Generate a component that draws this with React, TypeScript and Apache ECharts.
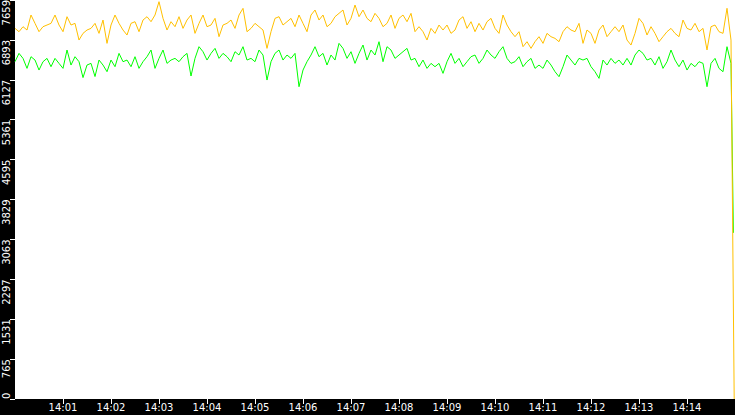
import React, { useEffect, useRef } from "react";
import * as echarts from "echarts";

// seconds after 14:00:00 between two samples
const SAMPLE_STEP = 5;

const orangeValues = [
  7115, 7051, 7147, 7083, 7371, 7211, 7051, 7147, 7179, 7211, 7371, 7179, 7051, 7339, 7179, 7211, 6891, 7019,
  7083, 7115, 7211, 7019, 7275, 6827, 7179, 7371, 7211, 7083, 6987, 7211, 7243, 7051, 7275, 7339, 7243, 7371,
  7627, 7307, 7083, 7243, 7147, 7339, 7115, 7275, 7371, 7019, 7211, 7371, 7147, 7179, 7307, 6955, 7179, 7211,
  7275, 7115, 7371, 7499, 7051, 7115, 7211, 7147, 7083, 6731, 7051, 7307, 7339, 7179, 7243, 7307, 7147, 7371,
  7211, 7051, 7371, 7467, 7275, 7371, 7147, 7211, 7339, 7403, 7467, 7179, 7307, 7563, 7339, 7467, 7307, 7243,
  7403, 7307, 7147, 7211, 7371, 7115, 7307, 7371, 7243, 7403, 7051, 7147, 7051, 6891, 7115, 7019, 7179, 7083,
  7179, 7019, 7083, 7275, 7339, 7115, 7243, 7051, 7211, 7083, 7243, 7307, 7115, 7019, 7371, 7179, 7051, 6955,
  7051, 6763, 6859, 6731, 6859, 6955, 6827, 7019, 6955, 6923, 6859, 7051, 7147, 7083, 7051, 7211, 6827, 7083,
  7019, 6827, 7083, 7179, 6955, 7051, 7147, 7051, 7179, 6891, 6795, 7019, 7307, 7211, 6987, 7147, 7019, 6859,
  6955, 7051, 7115, 7019, 6955, 7275, 7115, 7083, 7211, 7051, 7115, 6700, 7147, 7179, 7051, 7019, 7500, 6890,
];

const greenValues = [
  6475, 6635, 6539, 6347, 6571, 6507, 6315, 6475, 6539, 6379, 6539, 6443, 6347, 6699, 6411, 6571, 6475, 6170,
  6411, 6443, 6190, 6507, 6411, 6283, 6507, 6379, 6635, 6475, 6507, 6379, 6571, 6347, 6475, 6571, 6699, 6347,
  6539, 6699, 6443, 6507, 6539, 6475, 6571, 6635, 6200, 6539, 6763, 6667, 6507, 6635, 6731, 6539, 6635, 6571,
  6475, 6667, 6603, 6763, 6507, 6539, 6475, 6699, 6603, 6123, 6475, 6635, 6699, 6507, 6603, 6539, 6635, 5995,
  6315, 6475, 6603, 6763, 6571, 6635, 6411, 6603, 6507, 6827, 6731, 6539, 6667, 6443, 6635, 6795, 6507, 6699,
  6603, 6859, 6475, 6763, 6699, 6539, 6603, 6667, 6731, 6507, 6539, 6379, 6507, 6347, 6443, 6379, 6443, 6251,
  6475, 6635, 6443, 6539, 6379, 6475, 6571, 6603, 6443, 6539, 6699, 6603, 6539, 6667, 6763, 6539, 6443, 6475,
  6571, 6379, 6475, 6539, 6347, 6411, 6347, 6507, 6411, 6283, 6187, 6379, 6603, 6507, 6411, 6539, 6507, 6539,
  6379, 6283, 6155, 6507, 6411, 6539, 6443, 6507, 6411, 6539, 6411, 6603, 6699, 6635, 6507, 6539, 6411, 6571,
  6347, 6475, 6699, 6507, 6379, 6507, 6315, 6443, 6379, 6475, 6443, 5995, 6443, 6539, 6347, 6283, 6763, 6443,
];

// last readings at the right edge: [seconds after 14:00, value]
const orangeTail = [[899, 0]];
const greenTail = [[898, 3190]];

const timeLabels = [
  "14:01", "14:02", "14:03", "14:04", "14:05", "14:06", "14:07",
  "14:08", "14:09", "14:10", "14:11", "14:12", "14:13", "14:14",
];
const yTickLabels = ["0", "765", "1531", "2297", "3063", "3829", "4595", "5361", "6127", "6893", "7659"];

const X_MAX = 900;
const Y_STEP = 765.94;
const Y_MAX = 7659.4;

const toPairs = (vals: number[], tail: number[][]) =>
  vals.map((v, i) => [i * SAMPLE_STEP, v]).concat(tail);

export default function App() {
  const ref = useRef<HTMLDivElement>(null);

  useEffect(() => {
    if (!ref.current) return;
    const chart = echarts.init(ref.current, undefined, { renderer: "svg" });
    const tickSeconds = timeLabels.map((_, i) => (i + 1) * 60);
    const font = "DejaVu Sans";
    chart.setOption({
      animation: false,
      backgroundColor: "#000000",
      grid: {
        left: 15,
        right: 0,
        top: 0,
        bottom: 16,
        show: true,
        backgroundColor: "#ffffff",
        borderWidth: 0,
        containLabel: false,
        outerBoundsMode: "none",
      },
      xAxis: {
        type: "value",
        min: 0,
        max: X_MAX,
        interval: 60,
        axisLine: { show: false },
        splitLine: { show: false },
        axisTick: {
          show: true,
          length: 5,
          lineStyle: { color: "#ffffff", width: 1 },
          customValues: tickSeconds,
        },
        axisLabel: {
          color: "#ffffff",
          fontFamily: font,
          fontSize: 10,
          margin: 3,
          customValues: tickSeconds,
          formatter: (v: number) => timeLabels[Math.round(v / 60) - 1] ?? "",
        },
      },
      yAxis: {
        type: "value",
        min: 0,
        max: Y_MAX,
        interval: Y_STEP,
        axisLine: { show: false },
        splitLine: { show: false },
        axisTick: { show: true, length: 5, lineStyle: { color: "#ffffff", width: 1 } },
        axisLabel: {
          color: "#ffffff",
          fontFamily: font,
          fontSize: 10,
          rotate: 90,
          align: "right",
          verticalAlign: "middle",
          alignMinLabel: "left",
          margin: 9,
          formatter: (v: number) => yTickLabels[Math.round(v / Y_STEP)] ?? "",
        },
      },
      series: [
        {
          type: "line",
          data: toPairs(greenValues, greenTail),
          showSymbol: false,
          lineStyle: { color: "#00ff00", width: 1 },
          itemStyle: { color: "#00ff00" },
          silent: true,
        },
        {
          type: "line",
          data: toPairs(orangeValues, orangeTail),
          showSymbol: false,
          lineStyle: { color: "#ffc000", width: 1 },
          itemStyle: { color: "#ffc000" },
          silent: true,
        },
      ],
    });
    return () => chart.dispose();
  }, []);

  return (
    <div
      ref={ref}
      style={{ position: "fixed", left: 0, top: 0, width: 735, height: 415 }}
    />
  );
}
